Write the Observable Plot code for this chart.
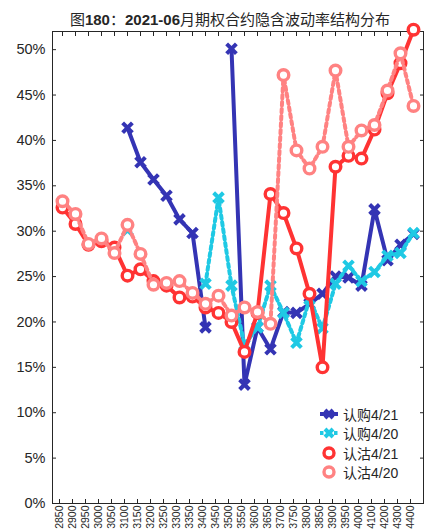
<!DOCTYPE html>
<html><head><meta charset="utf-8">
<script src="https://cdn.jsdelivr.net/npm/d3@7"></script>
<script src="https://cdn.jsdelivr.net/npm/@observablehq/plot@0.6"></script>
<style>
body{margin:0;background:#fff;}
#wrap{position:relative;width:427px;height:530px;overflow:hidden;font-family:"Liberation Sans",Arial,sans-serif;color:#262626;}
#title{position:absolute;left:0;top:8px;width:460px;text-align:center;font-size:15px;white-space:nowrap;font-family:"Liberation Sans","Noto Sans CJK SC",sans-serif;}
#title b{font-weight:bold;}
#chart{position:absolute;left:0;top:0;}
#legend{position:absolute;left:318px;top:404px;font-size:14px;font-family:"Liberation Sans","Noto Sans CJK SC",sans-serif;}
#legend .row{display:flex;align-items:center;height:19.5px;}
#legend svg{margin-right:3px;}
</style></head>
<body>
<div id="wrap">
  <div id="chart"></div>
  <div id="title">图<b>180</b>：<b>2021-06</b>月期权合约隐含波动率结构分布</div>
  <div id="legend"></div>
</div>
<script>
const strikes = ["2850","2900","2950","3000","3050","3100","3150","3200","3250","3300","3350","3400","3450","3500","3550","3600","3650","3700","3750","3800","3850","3900","3950","4000","4100","4200","4300","4400"];
// implied volatility, %
const call0421 = [null,null,null,null,null,41.4,37.6,35.7,33.9,31.3,29.8,19.4,null,50.1,13.1,19.4,17.0,21.1,21.0,22.0,23.1,25.0,24.9,24.0,32.4,26.8,28.5,29.7];
const call0420 = [null,null,null,null,null,30.1,null,null,null,null,null,24.2,33.7,24.0,17.5,19.4,24.0,21.0,17.7,22.5,19.3,24.2,26.2,24.5,25.5,27.3,27.6,29.8];
const put0421  = [32.6,30.8,28.5,28.9,28.2,25.1,25.8,24.5,24.0,22.7,22.8,21.6,21.0,20.0,16.7,21.0,34.1,32.0,28.1,23.1,15.0,37.1,38.3,38.0,41.2,45.2,48.5,52.2];
const put0420  = [33.3,31.9,28.6,29.2,27.6,30.7,27.5,24.1,24.3,24.5,23.2,22.0,22.9,20.7,21.6,21.1,19.8,47.2,38.9,36.9,39.3,47.7,39.3,41.1,41.7,45.5,49.6,43.8];
const seriesNames = ["认购4/21","认购4/20","认沽4/21","认沽4/20"];
const yTicks = [0,0.05,0.10,0.15,0.20,0.25,0.30,0.35,0.40,0.45,0.50];

const styles = [
  {color:"#3434b4", dash:null, symbol:"times"},
  {color:"#1fc9e4", dash:"3.5,3.5", symbol:"times"},
  {color:"#ff3333", dash:null, symbol:"circle"},
  {color:"#ff8282", dash:"3.5,3.5", symbol:"circle"}
];
const allValues = [call0421, call0420, put0421, put0420];

const marks = [];
allValues.forEach((vals, k) => {
  const st = styles[k];
  const rows = vals.map((v, i) => ({strike: strikes[i], v: v == null ? NaN : v / 100}));
  marks.push(Plot.line(rows, {x: "strike", y: "v", stroke: st.color, strokeWidth: 4, strokeDasharray: st.dash, strokeLinejoin: "round"}));
  if (st.symbol === "times") {
    marks.push(Plot.dot(rows, {x: "strike", y: "v", symbol: "times", r: 4.5, stroke: st.color, strokeWidth: 4}));
  } else {
    marks.push(Plot.dot(rows, {x: "strike", y: "v", symbol: "circle", r: 5.3, stroke: st.color, strokeWidth: 3.4, fill: "white"}));
  }
});

const chart = Plot.plot({
  width: 427, height: 530,
  marginLeft: 52, marginRight: 4, marginTop: 31, marginBottom: 27,
  style: {fontFamily: "Liberation Sans, Arial, sans-serif", color: "#262626", background: "white", overflow: "visible"},
  x: {type: "point", domain: strikes, padding: 0},
  y: {domain: [0, 0.52]},
  marks: [
    Plot.frame({stroke: "#262626", strokeWidth: 1}),
    Plot.axisY({anchor: "left", ticks: yTicks, tickSize: -4, tickPadding: 11, fontSize: 14.5, tickFormat: d => Math.round(d * 100) + "%", label: null}),
    Plot.axisY({anchor: "right", ticks: yTicks, tickSize: -4, tickFormat: () => "", label: null}),
    Plot.axisX({anchor: "bottom", tickSize: -4, tickRotate: -90, tickPadding: 6, dx: -3, fontSize: 10.5, label: null}),
    Plot.axisX({anchor: "top", tickSize: -4, tickFormat: () => "", label: null}),
    ...marks
  ]
});
document.getElementById("chart").appendChild(chart);

// legend
const leg = document.getElementById("legend");
seriesNames.forEach((name, k) => {
  const st = styles[k];
  const row = document.createElement("div");
  row.className = "row";
  let sym;
  if (st.symbol === "times") {
    sym = `<path d="M7,3 L15,11 M15,3 L7,11" stroke="${st.color}" stroke-width="4"/>`;
  } else {
    sym = `<circle cx="11" cy="7" r="5" fill="white" stroke="${st.color}" stroke-width="3.4"/>`;
  }
  const line = st.symbol === "times" ? `<line x1="2" x2="20" y1="7" y2="7" stroke="${st.color}" stroke-width="4" ${st.dash ? 'stroke-dasharray="' + st.dash + '"' : ''}/>` : "";
  row.innerHTML = `<svg width="22" height="14">${line}${sym}</svg><span>${name}</span>`;
  leg.appendChild(row);
});
</script>
</body></html>
